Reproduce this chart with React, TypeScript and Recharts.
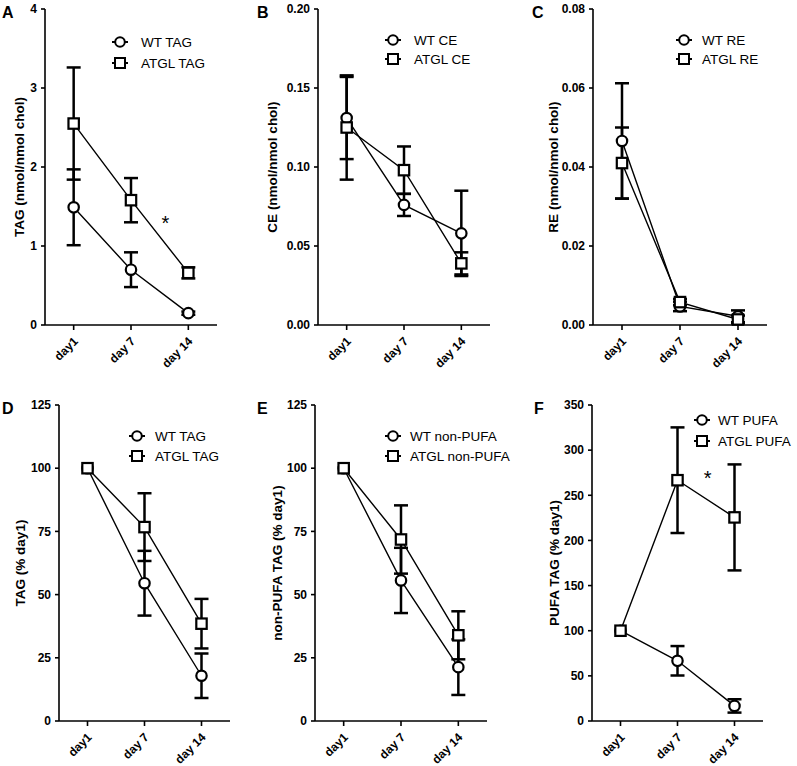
import React from "react";
import { LineChart, Line, XAxis, YAxis, ErrorBar, ReferenceDot } from "recharts";

const FONT = '"Liberation Sans", Arial, Helvetica, sans-serif';

const days = ["day1", "day 7", "day 14"];

// A - TAG (nmol/nmol chol)
const tagWt = [1.49, 0.7, 0.15];
const tagWtErr = [0.48, 0.22, 0.02];
const tagAtgl = [2.55, 1.58, 0.66];
const tagAtglErr = [0.71, 0.28, 0.07];

// B - CE (nmol/nmol chol)
const ceWt = [0.131, 0.076, 0.058];
const ceWtErr = [0.026, 0.007, 0.027];
const ceAtgl = [0.125, 0.098, 0.039];
const ceAtglErr = [0.033, 0.015, 0.007];

// C - RE (nmol/nmol chol)
const reWt = [0.0466, 0.0047, 0.0022];
const reWtErr = [0.0146, 0.0012, 0.0015];
const reAtgl = [0.041, 0.0058, 0.0014];
const reAtglErr = [0.009, 0.0008, 0.001];

// D - TAG (% day1)
const tagPctWt = [100, 54.5, 17.9];
const tagPctWtErr = [0, 12.8, 8.8];
const tagPctAtgl = [100, 76.7, 38.5];
const tagPctAtglErr = [0, 13.4, 9.8];

// E - non-PUFA TAG (% day1)
const nonPufaWt = [100, 55.6, 21.3];
const nonPufaWtErr = [0, 12.9, 11];
const nonPufaAtgl = [100, 71.8, 33.9];
const nonPufaAtglErr = [0, 13.5, 9.5];

// F - PUFA TAG (% day1)
const pufaWt = [100, 66.7, 16.7];
const pufaWtErr = [0, 16.3, 7.4];
const pufaAtgl = [100, 266.7, 225.5];
const pufaAtglErr = [0, 58.5, 58.7];

const ticks4 = [0, 1, 2, 3, 4];
const ticksCE = [0, 0.05, 0.1, 0.15, 0.2];
const ticksRE = [0, 0.02, 0.04, 0.06, 0.08];
const ticksPct = [0, 25, 50, 75, 100, 125];
const ticksPufa = [0, 50, 100, 150, 200, 250, 300, 350];

const fmt2 = (v: number) => v.toFixed(2);
const fmt0 = (v: number) => String(v);

const panels = [
  {
    letter: "A", yLabel: "TAG (nmol/nmol chol)", wtName: "WT TAG", atglName: "ATGL TAG",
    wt: tagWt, wtErr: tagWtErr, atgl: tagAtgl, atglErr: tagAtglErr,
    ticks: ticks4, fmt: fmt0, star: { x: 2.6, y: 1.33 },
    left: 0, top: 0, width: 217, height: 380, mTop: 9, yW: 45, labelX: 19,
    legX: 120, legY: [42, 63], textX: 141, letterX: 2, letterY: 18,
  },
  {
    letter: "B", yLabel: "CE (nmol/nmol chol)", wtName: "WT CE", atglName: "ATGL CE",
    wt: ceWt, wtErr: ceWtErr, atgl: ceAtgl, atglErr: ceAtglErr,
    ticks: ticksCE, fmt: fmt2, star: null,
    left: 240, top: 0, width: 250, height: 380, mTop: 9, yW: 78, labelX: 32,
    legX: 393, legY: [40, 59], textX: 414, letterX: 257, letterY: 18,
  },
  {
    letter: "C", yLabel: "RE (nmol/nmol chol)", wtName: "WT RE", atglName: "ATGL RE",
    wt: reWt, wtErr: reWtErr, atgl: reAtgl, atglErr: reAtglErr,
    ticks: ticksRE, fmt: fmt2, star: null,
    left: 520, top: 0, width: 247, height: 380, mTop: 9, yW: 73, labelX: 33,
    legX: 684, legY: [40, 59], textX: 702, letterX: 532, letterY: 18,
  },
  {
    letter: "D", yLabel: "TAG (% day1)", wtName: "WT TAG", atglName: "ATGL TAG",
    wt: tagPctWt, wtErr: tagPctWtErr, atgl: tagPctAtgl, atglErr: tagPctAtglErr,
    ticks: ticksPct, fmt: fmt0, star: null,
    left: 0, top: 380, width: 230, height: 386, mTop: 25, yW: 59, labelX: 20,
    legX: 137, legY: [436, 456], textX: 155, letterX: 2, letterY: 414,
  },
  {
    letter: "E", yLabel: "non-PUFA TAG (% day1)", wtName: "WT non-PUFA", atglName: "ATGL non-PUFA",
    wt: nonPufaWt, wtErr: nonPufaWtErr, atgl: nonPufaAtgl, atglErr: nonPufaAtglErr,
    ticks: ticksPct, fmt: fmt0, star: null,
    left: 240, top: 380, width: 247, height: 386, mTop: 25, yW: 75, labelX: 37,
    legX: 393, legY: [436, 456], textX: 410, letterX: 257, letterY: 414,
  },
  {
    letter: "F", yLabel: "PUFA TAG (% day1)", wtName: "WT PUFA", atglName: "ATGL PUFA",
    wt: pufaWt, wtErr: pufaWtErr, atgl: pufaAtgl, atglErr: pufaAtglErr,
    ticks: ticksPufa, fmt: fmt0, star: { x: 2.53, y: 273 },
    left: 520, top: 380, width: 243, height: 386, mTop: 25, yW: 72, labelX: 34,
    legX: 702, legY: [420, 441], textX: 718, letterX: 534, letterY: 414,
  },
];

const axisStyle = { stroke: "#000", strokeWidth: 1.6 };

function DayTick(props: any) {
  const { x, y, payload } = props;
  const ax = x + 5;
  const ay = y + 10;
  return (
    <text
      x={ax}
      y={ay}
      transform={`rotate(-45 ${ax} ${ay})`}
      textAnchor="end"
      fontFamily={FONT}
      fontWeight="bold"
      fontSize={12}
      fill="#000"
    >
      {days[payload.value - 1]}
    </text>
  );
}

function circleDot(p: any) {
  return (
    <circle key={`c${p.index}`} cx={p.cx} cy={p.cy} r={5.2} fill="#fff" stroke="#000" strokeWidth={2.2} />
  );
}

function squareDot(p: any) {
  return (
    <rect key={`s${p.index}`} x={p.cx - 5.2} y={p.cy - 5.2} width={10.4} height={10.4} fill="#fff" stroke="#000" strokeWidth={2.2} />
  );
}

function Star(props: any) {
  const vb = props.viewBox || {};
  return (
    <text x={vb.x} y={vb.y} dy={10} textAnchor="middle" fontFamily={FONT} fontSize={20} fill="#000">
      *
    </text>
  );
}

function LegendIcon({ square }: { square: boolean }) {
  return (
    <svg width={16} height={14} style={{ display: "block" }}>
      <line x1={0} y1={7} x2={16} y2={7} stroke="#000" strokeWidth={2} />
      {square ? (
        <rect x={3} y={2} width={10} height={10} fill="#fff" stroke="#000" strokeWidth={2} />
      ) : (
        <circle cx={8} cy={7} r={4.8} fill="#fff" stroke="#000" strokeWidth={2} />
      )}
    </svg>
  );
}

function Panel({ cfg }: { cfg: (typeof panels)[number] }) {
  const data = days.map((d, i) => ({
    x: i + 1,
    day: d,
    wt: cfg.wt[i],
    wtErr: cfg.wtErr[i],
    atgl: cfg.atgl[i],
    atglErr: cfg.atglErr[i],
  }));
  const yMax = cfg.ticks[cfg.ticks.length - 1];
  const rows = [
    { name: cfg.wtName, square: false, y: cfg.legY[0] },
    { name: cfg.atglName, square: true, y: cfg.legY[1] },
  ];

  return (
    <div style={{ position: "absolute", left: cfg.left, top: cfg.top, width: cfg.width, height: cfg.height }}>
      <LineChart
        width={cfg.width}
        height={cfg.height}
        data={data}
        margin={{ top: cfg.mTop, right: 0, bottom: 0, left: 0 }}
      >
        <XAxis
          dataKey="x"
          type="number"
          domain={[0.5, 3.5]}
          ticks={[1, 2, 3]}
          interval={0}
          height={cfg.height - cfg.mTop - 316}
          axisLine={axisStyle}
          tickLine={axisStyle}
          tickSize={5}
          tick={<DayTick />}
        />
        <YAxis
          type="number"
          domain={[0, yMax]}
          ticks={cfg.ticks}
          interval={0}
          width={cfg.yW}
          tickFormatter={cfg.fmt}
          axisLine={axisStyle}
          tickLine={axisStyle}
          tickSize={4}
          tickMargin={4}
          tick={{ fontFamily: FONT, fontWeight: "bold", fontSize: 12, fill: "#000" }}
          label={{
            value: cfg.yLabel,
            angle: -90,
            position: "insideLeft",
            offset: cfg.labelX,
            style: { textAnchor: "middle", fontFamily: FONT, fontWeight: "bold", fontSize: 13.5, fill: "#000" },
          }}
        />
        <Line
          dataKey="wt"
          name={cfg.wtName}
          stroke="#000"
          strokeWidth={1.4}
          dot={circleDot}
          activeDot={false}
          isAnimationActive={false}
        >
          <ErrorBar dataKey="wtErr" direction="y" width={7} stroke="#000" strokeWidth={2.5} isAnimationActive={false} />
        </Line>
        <Line
          dataKey="atgl"
          name={cfg.atglName}
          stroke="#000"
          strokeWidth={1.4}
          dot={squareDot}
          activeDot={false}
          isAnimationActive={false}
        >
          <ErrorBar dataKey="atglErr" direction="y" width={7} stroke="#000" strokeWidth={2.5} isAnimationActive={false} />
        </Line>
        {cfg.star && <ReferenceDot x={cfg.star.x} y={cfg.star.y} r={0} stroke="none" fill="none" label={<Star />} />}
      </LineChart>
      {rows.map((r) => (
        <div
          key={r.name}
          style={{
            position: "absolute",
            left: cfg.legX - cfg.left - 8,
            top: r.y - cfg.top - 8,
            height: 16,
            display: "flex",
            alignItems: "center",
            whiteSpace: "nowrap",
            fontFamily: FONT,
            fontSize: 13.5,
            color: "#000",
          }}
        >
          <LegendIcon square={r.square} />
          <span style={{ marginLeft: cfg.textX - cfg.legX - 8 }}>{r.name}</span>
        </div>
      ))}
    </div>
  );
}

export default function App() {
  return (
    <div style={{ position: "absolute", left: 0, top: 0, width: 797, height: 766, background: "#fff" }}>
      {panels.map((p) => (
        <Panel key={p.letter} cfg={p} />
      ))}
      <svg width={797} height={766} style={{ position: "absolute", left: 0, top: 0, pointerEvents: "none" }}>
        {panels.map((p) => (
          <text key={p.letter} x={p.letterX} y={p.letterY} fontFamily={FONT} fontWeight="bold" fontSize={16} fill="#000">
            {p.letter}
          </text>
        ))}
      </svg>
    </div>
  );
}
